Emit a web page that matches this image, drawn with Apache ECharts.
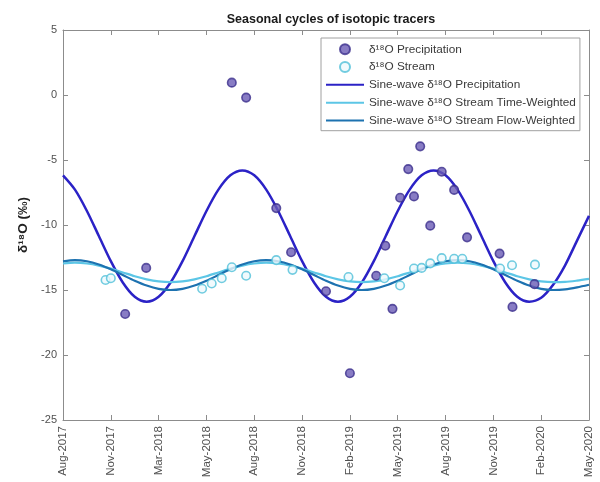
<!DOCTYPE html>
<html>
<head>
<meta charset="utf-8">
<script src="https://cdn.jsdelivr.net/npm/echarts@6.0.0/dist/echarts.min.js"></script>
<style>html,body{margin:0;padding:0;background:#fff}#c{width:600px;height:482px}</style>
</head>
<body>
<div id="c"></div>
<script>
// x positions are in tick units (0 = Aug-2017 ... 11 = May-2020)
const tickLabels = ['Aug-2017','Nov-2017','Mar-2018','May-2018','Aug-2018','Nov-2018','Feb-2019','May-2019','Aug-2019','Nov-2019','Feb-2020','May-2020'];

const precipX = [1.30, 1.74, 3.53, 3.83, 4.46, 4.77, 5.50, 6.00, 6.55, 6.74, 6.89, 7.05, 7.22, 7.34, 7.47, 7.68, 7.92, 8.18, 8.45, 9.13, 9.40, 9.86];
const precipY = [-16.85, -13.3, 0.95, -0.2, -8.7, -12.1, -15.1, -21.4, -13.9, -11.6, -16.45, -7.9, -5.7, -7.8, -3.95, -10.05, -5.9, -7.3, -10.95, -12.2, -16.3, -14.55];

const streamX = [0.89, 1.00, 2.91, 3.11, 3.32, 3.53, 3.83, 4.46, 4.80, 5.97, 6.72, 7.05, 7.34, 7.50, 7.68, 7.92, 8.18, 8.35, 9.14, 9.39, 9.87];
const streamY = [-14.23, -14.1, -14.9, -14.5, -14.1, -13.25, -13.9, -12.7, -13.45, -14.0, -14.1, -14.65, -13.35, -13.3, -12.95, -12.55, -12.6, -12.6, -13.35, -13.1, -13.05];

const sineX = [0,0.25,0.5,0.75,1,1.25,1.5,1.75,2,2.25,2.5,2.75,3,3.25,3.5,3.75,4,4.25,4.5,4.75,5,5.25,5.5,5.75,6,6.25,6.5,6.75,7,7.25,7.5,7.75,8,8.25,8.5,8.75,9,9.25,9.5,9.75,10,10.25,10.5,10.75,11];
const sinePrecip = [-6.18,-7.28,-8.92,-10.85,-12.78,-14.42,-15.52,-15.90,-15.52,-14.42,-12.78,-10.85,-8.92,-7.28,-6.18,-5.80,
  -6.18,-7.28,-8.92,-10.85,-12.78,-14.42,-15.52,-15.90,-15.52,-14.42,-12.78,-10.85,-8.92,-7.28,-6.18,-5.80,
  -6.18,-7.28,-8.92,-10.85,-12.78,-14.42,-15.52,-15.90,-15.60,-14.60,-13.10,-11.20,-9.30];
const sineStreamTime = [-12.96,-12.90,-12.96,-13.12,-13.36,-13.65,-13.94,-14.18,-14.34,-14.40,-14.34,-14.18,-13.94,-13.65,-13.36,-13.12,
  -12.96,-12.90,-12.96,-13.12,-13.36,-13.65,-13.94,-14.18,-14.34,-14.40,-14.34,-14.18,-13.94,-13.65,-13.36,-13.12,
  -12.96,-12.90,-12.96,-13.12,-13.36,-13.65,-13.94,-14.18,-14.34,-14.40,-14.38,-14.28,-14.15];
const sineStreamFlow = [-12.79,-12.70,-12.79,-13.04,-13.41,-13.85,-14.29,-14.66,-14.91,-15.00,-14.91,-14.66,-14.29,-13.85,-13.41,-13.04,
  -12.79,-12.70,-12.79,-13.04,-13.41,-13.85,-14.29,-14.66,-14.91,-15.00,-14.91,-14.66,-14.29,-13.85,-13.41,-13.04,
  -12.79,-12.70,-12.79,-13.04,-13.41,-13.85,-14.29,-14.66,-14.91,-15.00,-14.95,-14.80,-14.60];

const names = ['δ¹⁸O Precipitation','δ¹⁸O Stream','Sine-wave δ¹⁸O Precipitation','Sine-wave δ¹⁸O Stream Time-Weighted','Sine-wave δ¹⁸O Stream Flow-Weighted'];

const zip = (a, b) => a.map((v, i) => [v, b[i]]);
const FONT = '"Liberation Sans", Arial, sans-serif';
const AX = '#8c8c8c';

const chart = echarts.init(document.getElementById('c'), null, {renderer: 'canvas'});
chart.setOption({
  animation: false,
  backgroundColor: '#fff',
  textStyle: {fontFamily: FONT},
  title: {
    text: 'Seasonal cycles of isotopic tracers',
    left: 326, top: 8, textAlign: 'center',
    textStyle: {fontSize: 12.5, fontWeight: 'bold', color: '#1a1a1a', fontFamily: FONT}
  },
  grid: {left: 63, right: 11, top: 30, bottom: 62, containLabel: false},
  legend: {
    orient: 'vertical', left: 321, top: 38,
    data: [
      {name: names[0]},
      {name: names[1]},
      {name: names[2], itemStyle: {opacity: 0}},
      {name: names[3], itemStyle: {opacity: 0}},
      {name: names[4], itemStyle: {opacity: 0}}
    ],
    itemWidth: 38, itemHeight: 10, itemGap: 5.3,
    padding: [5, 4, 4, 4],
    borderColor: '#a0a0a0', borderWidth: 1, backgroundColor: '#fff',
    textStyle: {fontSize: 11.8, color: '#3a3a3a', fontFamily: FONT, lineHeight: 12.5},
    selectedMode: false
  },
  xAxis: [{
    type: 'value', min: 0, max: 11, interval: 1, position: 'bottom',
    axisLine: {onZero: false, lineStyle: {color: AX}},
    axisTick: {inside: true, length: 5, lineStyle: {color: AX}},
    axisLabel: {rotate: 90, fontSize: 11.5, color: '#505050', margin: 6,
      formatter: v => tickLabels[Math.round(v)] || ''},
    splitLine: {show: false}
  }, {
    type: 'value', min: 0, max: 11, interval: 1, position: 'top',
    axisLine: {show: true, onZero: false, lineStyle: {color: AX}},
    axisTick: {show: true, inside: true, length: 5, lineStyle: {color: AX}},
    axisLabel: {show: false}, splitLine: {show: false}
  }],
  yAxis: [{
    type: 'value', min: -25, max: 5, interval: 5, position: 'left',
    axisLine: {show: true, onZero: false, lineStyle: {color: AX}},
    axisTick: {show: true, inside: true, length: 5, lineStyle: {color: AX}},
    axisLabel: {fontSize: 11, color: '#505050', margin: 6},
    splitLine: {show: false},
    name: 'δ¹⁸O (‰)', nameLocation: 'middle', nameGap: 29, nameRotate: 90,
    nameTextStyle: {fontSize: 13.5, fontWeight: 'bold', color: '#222', fontFamily: FONT}
  }, {
    type: 'value', min: -25, max: 5, interval: 5, position: 'right',
    axisLine: {show: true, onZero: false, lineStyle: {color: AX}},
    axisTick: {show: true, inside: true, length: 5, lineStyle: {color: AX}},
    axisLabel: {show: false}, splitLine: {show: false}
  }],
  series: [{
    name: names[0], type: 'scatter', symbol: 'circle', symbolSize: 8.5, z: 5,
    data: zip(precipX, precipY),
    itemStyle: {color: '#6a5bb5', borderColor: '#3b2e8c', borderWidth: 1.6}
  }, {
    name: names[1], type: 'scatter', symbol: 'circle', symbolSize: 8.5, z: 5,
    data: zip(streamX, streamY),
    itemStyle: {color: '#eef9fc', borderColor: '#4fbfd8', borderWidth: 1.6}
  }, {
    name: names[2], type: 'line', symbol: 'none', smooth: 0.3, z: 3,
    data: zip(sineX, sinePrecip),
    lineStyle: {color: '#2b22c6', width: 2.5}, itemStyle: {color: '#2b22c6'}
  }, {
    name: names[3], type: 'line', symbol: 'none', smooth: 0.3, z: 3,
    data: zip(sineX, sineStreamTime),
    lineStyle: {color: '#5cc6e6', width: 2.2}, itemStyle: {color: '#5cc6e6'}
  }, {
    name: names[4], type: 'line', symbol: 'none', smooth: 0.3, z: 3,
    data: zip(sineX, sineStreamFlow),
    lineStyle: {color: '#1d72b0', width: 2.2}, itemStyle: {color: '#1d72b0'}
  }]
});
</script>
</body>
</html>
